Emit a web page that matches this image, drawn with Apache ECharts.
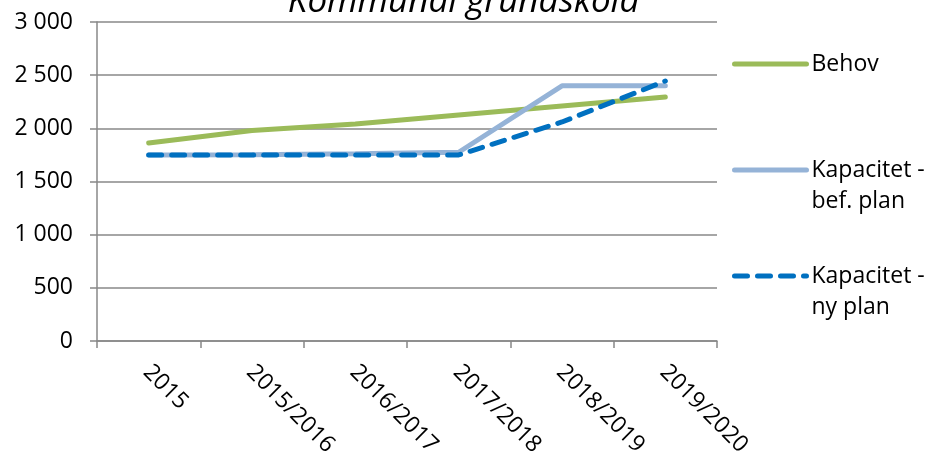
<!DOCTYPE html>
<html><head><meta charset="utf-8">
<script src="https://cdn.jsdelivr.net/npm/echarts@6/dist/echarts.min.js"></script>
<style>html,body{margin:0;padding:0;background:#fff}#c{width:927px;height:459px}</style>
</head><body><div id="c"></div>
<script>
const chartTitle = 'Kommunal grundskola';
const categories = ['2015', '2015/2016', '2016/2017', '2017/2018', '2018/2019', '2019/2020'];
const behov = [1862, 1980, 2040, 2125, 2210, 2295];
const befPlan = [1750, 1752, 1762, 1775, 2400, 2400];
const nyPlan = [1750, 1750, 1750, 1750, 2060, 2445];
const yTickLabels = ['0', '500', '1 000', '1 500', '2 000', '2 500', '3 000'];
const seriesNames = ['Behov', 'Kapacitet - bef. plan', 'Kapacitet - ny plan'];
const legendLabels = ['Behov', '\nKapacitet -\nbef. plan', '\nKapacitet -\nny plan'];

const FONT = 'Open Sans';
const FS = 23;
const gridColor = '#888888';
const chart = echarts.init(document.getElementById('c'), null, {renderer: 'canvas'});

function legendFor(i, top) {
  return {
    data: [seriesNames[i]],
    left: 732, top: top, padding: 0,
    orient: 'vertical',
    itemWidth: 72, itemHeight: 6, itemGap: 0,
    selectedMode: false,
    itemStyle: {opacity: 0},
    lineStyle: {width: 5, cap: 'round'},
    formatter: () => legendLabels[i],
    textStyle: {fontFamily: FONT, fontSize: FS, color: '#000', lineHeight: 31}
  };
}

chart.setOption({
  animation: false,
  backgroundColor: '#fff',
  title: {
    text: chartTitle, left: 'center', top: -20,
    textStyle: {fontFamily: FONT, fontSize: 35, fontStyle: 'italic', fontWeight: 'normal', color: '#000'}
  },
  legend: [legendFor(0, 48.5), legendFor(1, 123.5), legendFor(2, 229.5)],
  grid: {left: 97, right: 210, top: 22, bottom: 118, outerBoundsMode: 'none', containLabel: false},
  xAxis: {
    type: 'category', data: categories, boundaryGap: true,
    axisLine: {show: true, lineStyle: {color: gridColor, width: 1.5}},
    axisTick: {show: true, length: 7, interval: 0, lineStyle: {color: gridColor, width: 1.5}},
    axisLabel: {interval: 0, rotate: -45, margin: 13, verticalAlign: 'top', padding: [0, 0, 0, 9],
      color: '#000', fontFamily: FONT, fontSize: FS}
  },
  yAxis: {
    type: 'value', min: 0, max: 3000, interval: 500,
    axisLine: {show: true, lineStyle: {color: gridColor, width: 1.5}},
    axisTick: {show: true, length: 7, lineStyle: {color: gridColor, width: 1.5}},
    splitLine: {show: true, lineStyle: {color: gridColor, width: 1.5}},
    axisLabel: {margin: 24, color: '#000', fontFamily: FONT, fontSize: FS,
      formatter: (v, idx) => yTickLabels[idx]}
  },
  series: [
    {name: seriesNames[0], type: 'line', data: behov, symbol: 'none', color: '#9BBB59',
      lineStyle: {width: 5, color: '#9BBB59', cap: 'round'}},
    {name: seriesNames[1], type: 'line', data: befPlan, symbol: 'none', color: '#95B3D7',
      lineStyle: {width: 5, color: '#95B3D7', cap: 'round'}},
    {name: seriesNames[2], type: 'line', data: nyPlan, symbol: 'none', color: '#0070C0',
      lineStyle: {width: 5, color: '#0070C0', type: [13, 10], cap: 'round'}}
  ]
});
</script></body></html>
